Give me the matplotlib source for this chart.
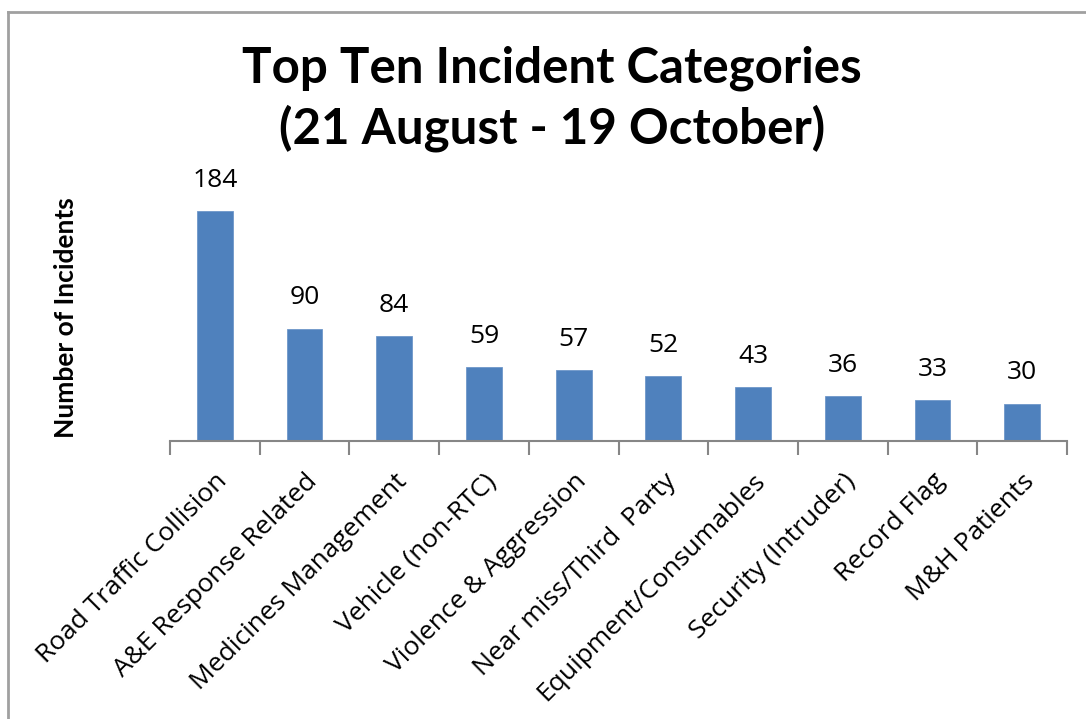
import matplotlib
matplotlib.use("Agg")
import matplotlib.pyplot as plt
from matplotlib.lines import Line2D
import numpy as np

categories = ["Road Traffic Collision", "A&E Response Related", "Medicines Management",
              "Vehicle (non-RTC)", "Violence & Aggression", "Near miss/Third  Party",
              "Equipment/Consumables", "Security (Intruder)", "Record Flag", "M&H Patients"]
values = [184, 90, 84, 59, 57, 52, 43, 36, 33, 30]

title = "Top Ten Incident Categories\n(21 August - 19 October)"
ylabel = "Number of Incidents"

fig = plt.figure(figsize=(10.86, 7.19), dpi=100)
ax = fig.add_axes([170/1086, 1-441/719, (1067-170)/1086, (441-170)/719])

x = np.arange(len(categories))
ax.bar(x, values, width=0.4, color="#4f81bd", edgecolor="#6f97c9", linewidth=0.6, zorder=2)
ax.set_xlim(-0.5, len(categories)-0.5)
ax.set_ylim(0, 271/1.25)

for xi, v in zip(x, values):
    ax.annotate(str(v), (xi, v), xytext=(0, 13), textcoords="offset points",
                ha="center", va="bottom", fontsize=19, family="Open Sans")

for s in ["top", "right", "left"]:
    ax.spines[s].set_visible(False)
ax.spines["bottom"].set_color("#868686")
ax.spines["bottom"].set_linewidth(1.5)
ax.set_yticks([])
ax.set_xticks(x)
ax.set_xticklabels(categories, rotation=45, ha="right", rotation_mode="anchor",
                   fontsize=19, family="Open Sans")
ax.tick_params(axis="x", which="major", length=0, pad=20)
ax.set_xticks(np.arange(-0.5, len(categories)), minor=True)
ax.tick_params(axis="x", which="minor", length=10, width=1.5, color="#868686")

ax.set_ylabel(ylabel, fontsize=19, fontweight="bold", family="Lato")
ax.yaxis.set_label_coords(-92/897, (441-318)/271)

fig.text(552/1086, 1-99/719, title, ha="center", va="center", fontsize=35.5,
         fontweight="bold", family="Lato", linespacing=1.35)

# figure frame (left and top edges)
fig.add_artist(Line2D([8/1086, 8/1086], [0, 1-12/719], color="#a0a0a0", lw=2, transform=fig.transFigure))
fig.add_artist(Line2D([8/1086, 1], [1-12/719, 1-12/719], color="#a0a0a0", lw=2, transform=fig.transFigure))

fig.savefig("out.png", dpi=100)
